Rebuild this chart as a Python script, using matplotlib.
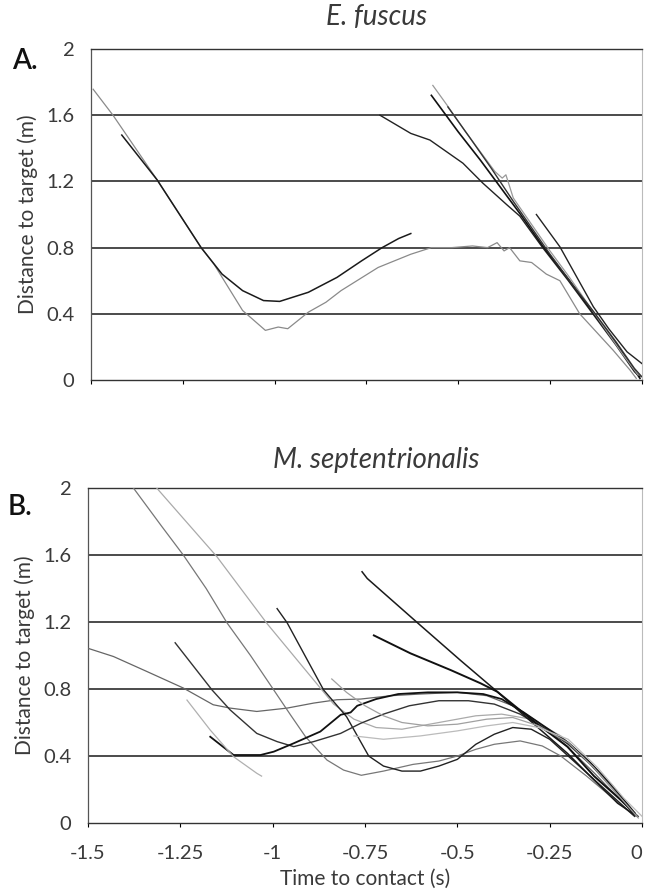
import matplotlib.pyplot as plt

plt.rcParams["font.family"] = ["Lato", "DejaVu Sans"]

# x axis (time to contact, s) and y axis (distance, m)
x_ticks = [-1.5, -1.25, -1.0, -0.75, -0.5, -0.25, 0.0]
x_tick_labels = ["-1.5", "-1.25", "-1", "-0.75", "-0.5", "-0.25", "0"]
y_ticks = [0, 0.4, 0.8, 1.2, 1.6, 2.0]
y_tick_labels = ["0", "0.4", "0.8", "1.2", "1.6", "2"]

# ---- E. fuscus traces (time, distance) ----
fuscus_gray = [(-1.494, 1.757), (-1.44, 1.60), (-1.32, 1.21), (-1.20, 0.80), (-1.165, 0.70),
               (-1.087, 0.42), (-1.025, 0.30), (-0.99, 0.32), (-0.964, 0.31), (-0.908, 0.41),
               (-0.86, 0.47), (-0.819, 0.54), (-0.718, 0.68), (-0.629, 0.76), (-0.573, 0.80),
               (-0.517, 0.80), (-0.461, 0.81), (-0.42, 0.80), (-0.394, 0.83), (-0.375, 0.78),
               (-0.36, 0.80), (-0.332, 0.72), (-0.30, 0.71), (-0.26, 0.64), (-0.223, 0.60),
               (-0.169, 0.40), (-0.078, 0.18), (-0.032, 0.06), (-0.015, 0.01)]
fuscus_loop = [(-1.416, 1.48), (-1.32, 1.21), (-1.20, 0.80), (-1.143, 0.64), (-1.087, 0.54),
               (-1.03, 0.48), (-0.986, 0.475), (-0.908, 0.53), (-0.83, 0.62), (-0.763, 0.72),
               (-0.707, 0.80), (-0.662, 0.855), (-0.629, 0.885)]
fuscus_slow = [(-0.713, 1.60), (-0.629, 1.49), (-0.577, 1.45), (-0.487, 1.31), (-0.433, 1.19),
               (-0.368, 1.06), (-0.332, 0.99), (-0.27, 0.80), (-0.20, 0.60), (-0.13, 0.39),
               (-0.07, 0.21), (-0.02, 0.05), (-0.005, 0.02)]
fuscus_fast1 = [(-0.573, 1.72), (-0.50, 1.50), (-0.44, 1.33), (-0.39, 1.18), (-0.33, 1.00),
                (-0.27, 0.81), (-0.20, 0.61), (-0.13, 0.40), (-0.07, 0.22), (-0.02, 0.06),
                (-0.005, 0.01)]
fuscus_fast2 = [(-0.569, 1.78), (-0.53, 1.66), (-0.48, 1.50), (-0.44, 1.38), (-0.40, 1.26),
                (-0.38, 1.22), (-0.37, 1.24), (-0.35, 1.10), (-0.30, 0.94), (-0.25, 0.78),
                (-0.20, 0.63), (-0.15, 0.47), (-0.10, 0.31), (-0.05, 0.15), (-0.01, 0.03)]
fuscus_fast3 = [(-0.528, 1.65), (-0.47, 1.47), (-0.41, 1.28), (-0.35, 1.08), (-0.30, 0.92),
                (-0.25, 0.76), (-0.19, 0.58), (-0.13, 0.41), (-0.07, 0.23), (-0.02, 0.07),
                (0.0, 0.02)]
fuscus_late = [(-0.287, 1.00), (-0.223, 0.805), (-0.18, 0.634), (-0.132, 0.443), (-0.09, 0.31),
               (-0.04, 0.17), (0.0, 0.10)]

# ---- M. septentrionalis traces (time, distance) ----
sept_long = [(-1.5, 1.043), (-1.431, 0.994), (-1.341, 0.905), (-1.242, 0.806), (-1.161, 0.706),
             (-1.115, 0.686), (-1.043, 0.666), (-0.961, 0.686), (-0.889, 0.716), (-0.826, 0.736),
             (-0.762, 0.74), (-0.68, 0.76), (-0.60, 0.77), (-0.50, 0.78), (-0.42, 0.76),
             (-0.35, 0.70), (-0.28, 0.60), (-0.20, 0.45), (-0.13, 0.30), (-0.06, 0.14),
             (-0.01, 0.04)]
sept_top1 = [(-1.377, 2.0), (-1.30, 1.77), (-1.242, 1.60), (-1.18, 1.40), (-1.124, 1.196),
             (-1.06, 1.00), (-0.997, 0.794), (-0.95, 0.64), (-0.911, 0.515), (-0.853, 0.376),
             (-0.808, 0.316), (-0.76, 0.285), (-0.70, 0.31), (-0.62, 0.35), (-0.55, 0.37),
             (-0.50, 0.40), (-0.45, 0.44), (-0.40, 0.47), (-0.33, 0.49), (-0.27, 0.46),
             (-0.22, 0.40), (-0.15, 0.28), (-0.08, 0.15), (-0.02, 0.04)]
sept_top2 = [(-1.314, 2.0), (-1.151, 1.59), (-1.015, 1.19), (-0.925, 0.95), (-0.835, 0.71),
             (-0.78, 0.62), (-0.72, 0.57), (-0.65, 0.56), (-0.55, 0.60), (-0.45, 0.64),
             (-0.38, 0.65), (-0.30, 0.62), (-0.22, 0.52), (-0.15, 0.38), (-0.08, 0.20),
             (-0.02, 0.05)]
sept_dip = [(-0.988, 1.28), (-0.961, 1.196), (-0.862, 0.794), (-0.80, 0.635), (-0.74, 0.40),
            (-0.70, 0.34), (-0.65, 0.31), (-0.60, 0.31), (-0.55, 0.34), (-0.50, 0.38),
            (-0.45, 0.47), (-0.40, 0.53), (-0.35, 0.57), (-0.30, 0.56), (-0.25, 0.50),
            (-0.20, 0.40), (-0.14, 0.28), (-0.08, 0.16), (-0.02, 0.04)]
sept_mid = [(-1.264, 1.076), (-1.164, 0.794), (-1.115, 0.675), (-1.043, 0.535), (-0.988, 0.486),
            (-0.943, 0.456), (-0.889, 0.486), (-0.816, 0.535), (-0.762, 0.595), (-0.70, 0.65),
            (-0.63, 0.70), (-0.55, 0.73), (-0.47, 0.73), (-0.40, 0.71), (-0.33, 0.65),
            (-0.26, 0.56), (-0.20, 0.47), (-0.14, 0.35), (-0.08, 0.21), (-0.02, 0.05)]
sept_low = [(-1.169, 0.515), (-1.106, 0.406), (-1.033, 0.406), (-0.997, 0.426), (-0.943, 0.476),
            (-0.871, 0.546), (-0.816, 0.646), (-0.789, 0.66), (-0.771, 0.70), (-0.72, 0.74),
            (-0.66, 0.77), (-0.58, 0.78), (-0.50, 0.78), (-0.43, 0.77), (-0.38, 0.74),
            (-0.32, 0.66), (-0.26, 0.57), (-0.20, 0.48), (-0.14, 0.36), (-0.08, 0.22),
            (-0.02, 0.06)]
sept_short = [(-1.232, 0.734), (-1.169, 0.555), (-1.106, 0.396), (-1.043, 0.297), (-1.03, 0.28)]
sept_high = [(-0.758, 1.50), (-0.744, 1.46), (-0.60, 1.18), (-0.491, 0.97), (-0.392, 0.784),
             (-0.346, 0.694), (-0.274, 0.555), (-0.202, 0.416), (-0.13, 0.257), (-0.066, 0.118),
             (-0.012, 0.038)]
sept_high2 = [(-0.726, 1.12), (-0.627, 1.013), (-0.518, 0.913), (-0.437, 0.834), (-0.392, 0.784),
              (-0.292, 0.605), (-0.202, 0.456), (-0.13, 0.28), (-0.057, 0.137), (-0.021, 0.058)]
sept_faint = [(-0.84, 0.86), (-0.80, 0.78), (-0.75, 0.70), (-0.70, 0.64), (-0.65, 0.60),
              (-0.58, 0.58), (-0.50, 0.59), (-0.42, 0.62), (-0.35, 0.63), (-0.28, 0.58),
              (-0.20, 0.48), (-0.13, 0.33), (-0.07, 0.18), (-0.01, 0.03)]
sept_faint2 = [(-0.78, 0.52), (-0.70, 0.50), (-0.60, 0.52), (-0.50, 0.55), (-0.42, 0.58),
               (-0.35, 0.60), (-0.28, 0.57), (-0.20, 0.50), (-0.12, 0.33), (-0.05, 0.15),
               (0.0, 0.04)]

TEXT = "#3a3a3a"


def trace(ax, pts, color, lw=1.0):
    t, d = zip(*pts)
    ax.plot(t, d, color=color, lw=lw, zorder=3)


def style_axes(ax, show_xlabels):
    ax.set_xlim(-1.5, 0)
    ax.set_ylim(0, 2)
    ax.set_yticks(y_ticks)
    ax.set_yticklabels(y_tick_labels)
    ax.set_xticks(x_ticks)
    if show_xlabels:
        ax.set_xticklabels(x_tick_labels)
        ax.get_xticklabels()[-1].set_horizontalalignment("right")
    else:
        ax.set_xticklabels([])
    ax.tick_params(axis="y", length=0, pad=12, labelsize=14.5, labelcolor=TEXT)
    ax.tick_params(axis="x", length=3, width=0.8, pad=13, labelsize=14.5,
                   labelcolor=TEXT, direction="out")
    for y in y_ticks[1:-1]:
        ax.axhline(y, color="#1a1a1a", lw=1.1, zorder=1)
    for side in ["top", "bottom"]:
        ax.spines[side].set_color("#333333")
        ax.spines[side].set_linewidth(1.0)
    ax.spines["left"].set_color("#555555")
    ax.spines["left"].set_linewidth(0.9)
    ax.spines["right"].set_color("#bbbbbb")
    ax.spines["right"].set_linewidth(0.8)
    ax.set_ylabel("Distance to target (m)", fontsize=15, color=TEXT, labelpad=6)


fig = plt.figure(figsize=(6.45, 8.91), dpi=100)
ax_a = fig.add_axes([0.141, 0.5735, 0.854, 0.3715])
ax_b = fig.add_axes([0.1364, 0.0763, 0.859, 0.376])

trace(ax_a, fuscus_gray, "#8a8a8a", 0.9)
trace(ax_a, fuscus_loop, "#1a1a1a", 1.1)
trace(ax_a, fuscus_slow, "#222222", 1.0)
trace(ax_a, fuscus_fast1, "#111111", 1.2)
trace(ax_a, fuscus_fast2, "#999999", 0.9)
trace(ax_a, fuscus_fast3, "#333333", 1.0)
trace(ax_a, fuscus_late, "#222222", 1.0)
style_axes(ax_a, False)

trace(ax_b, sept_long, "#666666", 0.9)
trace(ax_b, sept_top1, "#777777", 0.9)
trace(ax_b, sept_top2, "#aaaaaa", 0.9)
trace(ax_b, sept_dip, "#222222", 1.0)
trace(ax_b, sept_mid, "#333333", 1.0)
trace(ax_b, sept_low, "#111111", 1.3)
trace(ax_b, sept_short, "#b0b0b0", 0.9)
trace(ax_b, sept_high, "#1a1a1a", 1.1)
trace(ax_b, sept_high2, "#111111", 1.4)
trace(ax_b, sept_faint, "#a0a0a0", 0.9)
trace(ax_b, sept_faint2, "#bbbbbb", 0.9)
style_axes(ax_b, True)
ax_b.set_xlabel("Time to contact (s)", fontsize=15, color=TEXT, labelpad=5)

fig.text(377 / 645, 1 - 17 / 891, "E. fuscus", style="italic", fontsize=20,
         ha="center", va="center", color=TEXT)
fig.text(376 / 645, 1 - 460 / 891, "M. septentrionalis", style="italic", fontsize=20,
         ha="center", va="center", color=TEXT)
fig.text(12 / 645, 1 - 61 / 891, "A.", fontsize=20, weight="semibold",
         ha="left", va="center", color="#111111")
fig.text(8 / 645, 1 - 507 / 891, "B.", fontsize=20, weight="semibold",
         ha="left", va="center", color="#111111")

fig.savefig("out.png", dpi=100)
